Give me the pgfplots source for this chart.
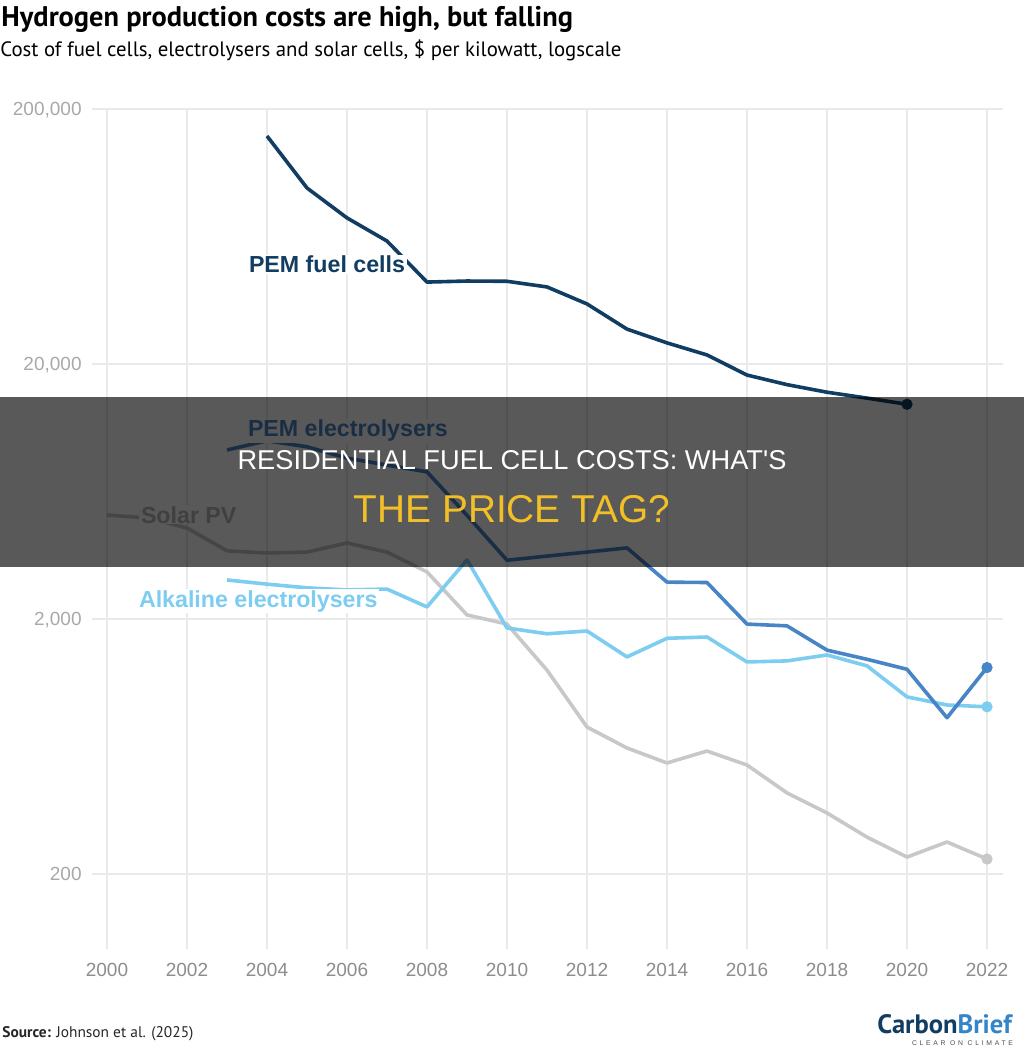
\documentclass[border=0pt]{standalone}
\usepackage{pgfplots}
\pgfplotsset{compat=1.18}
\usepackage{fontspec}
\setmainfont{Liberation Sans}
\newfontfamily\ptsans{PT Sans}
\newfontfamily\spaced[LetterSpace=40]{Liberation Sans}

\definecolor{navy}{RGB}{16,61,97}
\definecolor{pemblue}{RGB}{72,133,198}
\definecolor{alkblue}{RGB}{125,205,240}
\definecolor{solargrey}{RGB}{200,200,200}
\definecolor{solarlabel}{RGB}{185,185,185}
\definecolor{gridgrey}{RGB}{234,234,234}
\definecolor{ylab}{RGB}{168,168,168}
\definecolor{xlab}{RGB}{140,140,140}
\definecolor{gold}{RGB}{242,192,38}
\definecolor{logoblue}{RGB}{52,132,200}

\begin{document}
\begin{tikzpicture}
\useasboundingbox (0,0) rectangle (512pt,-529pt);
\begin{axis}[
  at={(46pt,-474.5pt)}, anchor=south west,
  scale only axis, width=455.5pt, height=420pt,
  ymode=log, xmin=1999.625, xmax=2022.4, ymin=101.6, ymax=200000,
  axis line style={draw=none},
  major tick length=0pt, minor tick length=0pt,
  tick style={draw=none},
  yminorticks=false, xminorticks=false,
  xtick={2000,2002,...,2022},
  xticklabels={2000,2002,2004,2006,2008,2010,2012,2014,2016,2018,2020,2022},
  ytick={200,2000,20000,200000},
  yticklabels={200,{2,000},{20,000},{200,000}},
  grid=major,
  major grid style={gridgrey, line width=0.75pt},
  /pgf/number format/assume math mode=true,
  tick label style={font=\fontsize{9.5}{11}\selectfont, inner sep=0pt},
  xticklabel style={text=xlab, anchor=north, yshift=-7pt},
  yticklabel style={text=ylab, anchor=base east, xshift=-5pt, yshift=-3.4pt},
  clip=false,
]
% Solar PV
\addplot[solargrey, line width=1.8pt, line join=round] coordinates {
  (2000,5115) (2001,4980) (2002,4550) (2003,3700) (2004,3630) (2005,3660)
  (2006,3975) (2007,3660) (2008,3060) (2009,2075) (2010,1910) (2011,1260)
  (2012,754) (2013,624) (2014,545) (2015,607) (2016,535) (2017,416)
  (2018,347) (2019,279) (2020,233) (2021,267) (2022,229)};
\addplot[only marks, mark=*, mark size=2.6pt, solargrey] coordinates {(2022,229)};
% Alkaline electrolysers
\addplot[alkblue, line width=1.8pt, line join=round] coordinates {
  (2003,2845) (2004,2740) (2005,2650) (2006,2600) (2007,2620) (2008,2230)
  (2009,3410) (2010,1845) (2011,1750) (2012,1795) (2013,1420) (2014,1680)
  (2015,1700) (2016,1357) (2017,1370) (2018,1445) (2019,1310) (2020,990)
  (2021,920) (2022,905)};
\addplot[only marks, mark=*, mark size=2.6pt, alkblue] coordinates {(2022,905)};
% PEM electrolysers
\addplot[pemblue, line width=1.8pt, line join=round] coordinates {
  (2003,9200) (2004,10000) (2005,9470) (2006,8550) (2007,8030) (2008,7550)
  (2009,5100) (2010,3400) (2011,3530) (2012,3660) (2013,3800) (2014,2790)
  (2015,2780) (2016,1910) (2017,1880) (2018,1510) (2019,1390) (2020,1270)
  (2021,820) (2022,1290)};
\addplot[only marks, mark=*, mark size=2.6pt, pemblue] coordinates {(2022,1290)};
% PEM fuel cells
\addplot[navy, line width=1.8pt, line join=round] coordinates {
  (2004,156700) (2005,98000) (2006,74800) (2007,60700) (2008,41900)
  (2009,42300) (2010,42200) (2011,40100) (2012,34400) (2013,27400)
  (2014,24200) (2015,21700) (2016,18100) (2017,16600) (2018,15500)
  (2019,14700) (2020,13900)};
\addplot[only marks, mark=*, mark size=2.6pt, navy] coordinates {(2020,13900)};
\end{axis}

\begin{scope}[x=0.5pt, y=-0.5pt]
% series labels, each on a white patch that breaks the line behind it
\begin{scope}[every node/.style={anchor=base west, inner xsep=0.8pt, inner ysep=0.6pt,
    fill=white, font=\bfseries\fontsize{11.6}{13}\selectfont}]
  \node[text=navy] at (247,273) {PEM fuel cells};
  \node[text=pemblue] at (246,437) {PEM electrolysers};
  \node[text=solarlabel] at (139,523) {Solar PV};
  \node[text=alkblue] at (137,607) {Alkaline electrolysers};
\end{scope}

% title block
\node[anchor=base west, inner sep=0pt, font=\ptsans\bfseries\fontsize{14.2}{16}\selectfont]
  at (1,27) {Hydrogen production costs are high, but falling};
\node[anchor=base west, inner sep=0pt, font=\ptsans\fontsize{10.4}{12}\selectfont]
  at (0,57) {Cost of fuel cells, electrolysers and solar cells, \$ per kilowatt, logscale};

% footer
\node[anchor=base west, inner sep=0pt, font=\ptsans\fontsize{7.7}{9}\selectfont, text=black!85]
  at (2,1037) {\textbf{Source:} Johnson et al. (2025)};
\node[anchor=base west, inner sep=0pt, font=\ptsans\bfseries\fontsize{13.3}{14}\selectfont]
  at (877,1033) {\textcolor{navy}{Carbon}\textcolor{logoblue}{Brief}};
\node[anchor=base, inner sep=0pt, font=\spaced\fontsize{3.4}{4}\selectfont, text=black!70]
  at (962.5,1045) {CLEAR ON CLIMATE};

% headline band
\fill[black, opacity=0.65] (0,397) rectangle (1024,567);
\node[anchor=base, inner sep=0pt, text=white, font=\fontsize{13.6}{15}\selectfont]
  at (512,469) {RESIDENTIAL FUEL CELL COSTS: WHAT\textquotesingle S};
\node[anchor=base, inner sep=0pt, text=gold, font=\fontsize{19.4}{21}\selectfont]
  at (512,522.5) {THE PRICE TAG?};
\end{scope}
\end{tikzpicture}
\end{document}
